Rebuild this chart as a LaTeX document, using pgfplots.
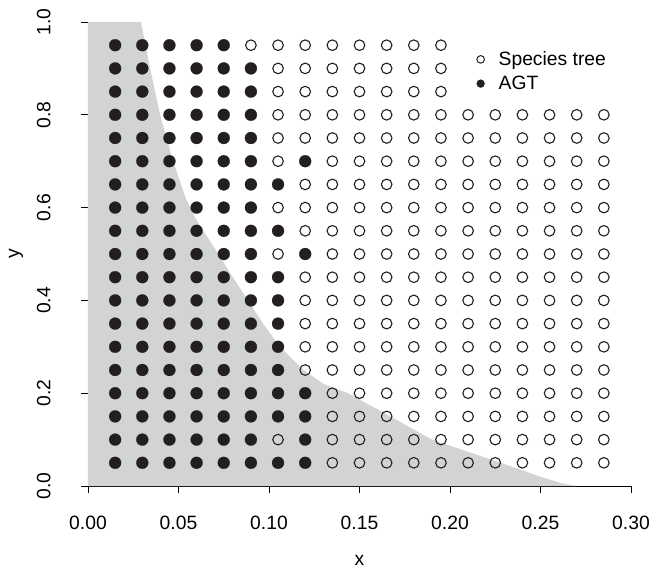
\documentclass[border=0pt]{standalone}
\usepackage{fontspec}
\setmainfont{Liberation Sans}
\usepackage{pgfplots}
\pgfplotsset{compat=1.18}
\definecolor{zonegray}{RGB}{209,211,212}
\definecolor{markblack}{RGB}{35,31,32}
\begin{document}
\begin{tikzpicture}
\begin{axis}[
  scale only axis, width=543pt, height=464pt,
  xmin=0, xmax=0.3, ymin=0, ymax=1,
  axis x line*=bottom, axis y line*=left,
  axis line style={line width=0.8pt, -, black},
  xtick={0,0.05,0.1,0.15,0.2,0.25,0.3},
  xticklabels={0.00,0.05,0.10,0.15,0.20,0.25,0.30},
  ytick={0,0.2,0.4,0.6,0.8,1},
  yticklabels={0.0,0.2,0.4,0.6,0.8,1.0},
  tick align=outside, major tick length=7pt,
  tick style={line width=0.8pt, black},
  /pgf/number format/assume math mode=true,
  ticklabel style={font=\fontsize{19.3}{22}\selectfont},
  yticklabel style={rotate=90, anchor=south},
  xticklabel shift=19pt, yticklabel shift=27pt,
  xlabel={x}, ylabel={y},
  label style={font=\fontsize{19.3}{22}\selectfont},
  xlabel style={at={(axis description cs:0.5,-0.1595)}, anchor=center},
  ylabel style={at={(axis description cs:-0.1326,0.5)}, anchor=center},
  legend style={draw=none, fill=none, at={(axis description cs:0.708,0.943)}, anchor=north west,
    font=\fontsize{19.3}{22}\selectfont, nodes={inner sep=1pt}, row sep=7pt},
  legend cell align=left,
]
\coordinate (sw) at (rel axis cs:0,0);
\coordinate (ne) at (rel axis cs:1,1);
\addplot[draw=none, fill=zonegray, forget plot] coordinates {
(0,0) (0,1) (0.0293,1.00) (0.0343,0.90) (0.0398,0.80) (0.0470,0.70) (0.0540,0.62)
(0.0596,0.575) (0.0720,0.50) (0.0800,0.45) (0.0884,0.40) (0.0967,0.35) (0.1060,0.30)
(0.1190,0.25) (0.1300,0.22) (0.1437,0.20) (0.1670,0.15) (0.1900,0.10) (0.2280,0.05)
(0.2500,0.02) (0.2626,0.005) (0.2700,0)} -- cycle;
% Species tree (open circles)
\addplot[only marks, mark=o, mark size=5.3pt, mark options={line width=1.1pt, draw=markblack},
  legend image code/.code={\path[draw=none, fill=none] (0pt,0pt) rectangle (22pt,0pt);
    \path plot[mark=o, mark size=3.8pt, mark options={line width=1pt, draw=markblack}] coordinates {(5pt,0pt)};}]
coordinates {
(0.090,0.95) (0.105,0.95) (0.120,0.95) (0.135,0.95) (0.150,0.95) (0.165,0.95) (0.180,0.95) (0.195,0.95)
(0.105,0.90) (0.120,0.90) (0.135,0.90) (0.150,0.90) (0.165,0.90) (0.180,0.90) (0.195,0.90)
(0.105,0.85) (0.120,0.85) (0.135,0.85) (0.150,0.85) (0.165,0.85) (0.180,0.85) (0.195,0.85)
(0.105,0.80) (0.120,0.80) (0.135,0.80) (0.150,0.80) (0.165,0.80) (0.180,0.80) (0.195,0.80) (0.210,0.80) (0.225,0.80) (0.240,0.80) (0.255,0.80) (0.270,0.80) (0.285,0.80)
(0.105,0.75) (0.120,0.75) (0.135,0.75) (0.150,0.75) (0.165,0.75) (0.180,0.75) (0.195,0.75) (0.210,0.75) (0.225,0.75) (0.240,0.75) (0.255,0.75) (0.270,0.75) (0.285,0.75)
(0.105,0.70) (0.135,0.70) (0.150,0.70) (0.165,0.70) (0.180,0.70) (0.195,0.70) (0.210,0.70) (0.225,0.70) (0.240,0.70) (0.255,0.70) (0.270,0.70) (0.285,0.70)
(0.120,0.65) (0.135,0.65) (0.150,0.65) (0.165,0.65) (0.180,0.65) (0.195,0.65) (0.210,0.65) (0.225,0.65) (0.240,0.65) (0.255,0.65) (0.270,0.65) (0.285,0.65)
(0.105,0.60) (0.120,0.60) (0.135,0.60) (0.150,0.60) (0.165,0.60) (0.180,0.60) (0.195,0.60) (0.210,0.60) (0.225,0.60) (0.240,0.60) (0.255,0.60) (0.270,0.60) (0.285,0.60)
(0.120,0.55) (0.135,0.55) (0.150,0.55) (0.165,0.55) (0.180,0.55) (0.195,0.55) (0.210,0.55) (0.225,0.55) (0.240,0.55) (0.255,0.55) (0.270,0.55) (0.285,0.55)
(0.105,0.50) (0.135,0.50) (0.150,0.50) (0.165,0.50) (0.180,0.50) (0.195,0.50) (0.210,0.50) (0.225,0.50) (0.240,0.50) (0.255,0.50) (0.270,0.50) (0.285,0.50)
(0.120,0.45) (0.135,0.45) (0.150,0.45) (0.165,0.45) (0.180,0.45) (0.195,0.45) (0.210,0.45) (0.225,0.45) (0.240,0.45) (0.255,0.45) (0.270,0.45) (0.285,0.45)
(0.120,0.40) (0.135,0.40) (0.150,0.40) (0.165,0.40) (0.180,0.40) (0.195,0.40) (0.210,0.40) (0.225,0.40) (0.240,0.40) (0.255,0.40) (0.270,0.40) (0.285,0.40)
(0.120,0.35) (0.135,0.35) (0.150,0.35) (0.165,0.35) (0.180,0.35) (0.195,0.35) (0.210,0.35) (0.225,0.35) (0.240,0.35) (0.255,0.35) (0.270,0.35) (0.285,0.35)
(0.120,0.30) (0.135,0.30) (0.150,0.30) (0.165,0.30) (0.180,0.30) (0.195,0.30) (0.210,0.30) (0.225,0.30) (0.240,0.30) (0.255,0.30) (0.270,0.30) (0.285,0.30)
(0.120,0.25) (0.135,0.25) (0.150,0.25) (0.165,0.25) (0.180,0.25) (0.195,0.25) (0.210,0.25) (0.225,0.25) (0.240,0.25) (0.255,0.25) (0.270,0.25) (0.285,0.25)
(0.135,0.20) (0.150,0.20) (0.165,0.20) (0.180,0.20) (0.195,0.20) (0.210,0.20) (0.225,0.20) (0.240,0.20) (0.255,0.20) (0.270,0.20) (0.285,0.20)
(0.135,0.15) (0.150,0.15) (0.165,0.15) (0.180,0.15) (0.195,0.15) (0.210,0.15) (0.225,0.15) (0.240,0.15) (0.255,0.15) (0.270,0.15) (0.285,0.15)
(0.105,0.10) (0.135,0.10) (0.150,0.10) (0.165,0.10) (0.180,0.10) (0.195,0.10) (0.210,0.10) (0.225,0.10) (0.240,0.10) (0.255,0.10) (0.270,0.10) (0.285,0.10)
(0.135,0.05) (0.150,0.05) (0.165,0.05) (0.180,0.05) (0.195,0.05) (0.210,0.05) (0.225,0.05) (0.240,0.05) (0.255,0.05) (0.270,0.05) (0.285,0.05)
};
\addlegendentry{Species tree}
% AGT (filled circles)
\addplot[only marks, mark=*, mark size=6pt, mark options={fill=markblack, draw=markblack, line width=0.2pt},
  legend image code/.code={\path[draw=none, fill=none] (0pt,0pt) rectangle (22pt,0pt);
    \path plot[mark=*, mark size=4pt, mark options={fill=markblack, draw=markblack, line width=0.2pt}] coordinates {(5pt,0pt)};}]
coordinates {
(0.015,0.95) (0.030,0.95) (0.045,0.95) (0.060,0.95) (0.075,0.95)
(0.015,0.90) (0.030,0.90) (0.045,0.90) (0.060,0.90) (0.075,0.90) (0.090,0.90)
(0.015,0.85) (0.030,0.85) (0.045,0.85) (0.060,0.85) (0.075,0.85) (0.090,0.85)
(0.015,0.80) (0.030,0.80) (0.045,0.80) (0.060,0.80) (0.075,0.80) (0.090,0.80)
(0.015,0.75) (0.030,0.75) (0.045,0.75) (0.060,0.75) (0.075,0.75) (0.090,0.75)
(0.015,0.70) (0.030,0.70) (0.045,0.70) (0.060,0.70) (0.075,0.70) (0.090,0.70) (0.120,0.70)
(0.015,0.65) (0.030,0.65) (0.045,0.65) (0.060,0.65) (0.075,0.65) (0.090,0.65) (0.105,0.65)
(0.015,0.60) (0.030,0.60) (0.045,0.60) (0.060,0.60) (0.075,0.60) (0.090,0.60)
(0.015,0.55) (0.030,0.55) (0.045,0.55) (0.060,0.55) (0.075,0.55) (0.090,0.55) (0.105,0.55)
(0.015,0.50) (0.030,0.50) (0.045,0.50) (0.060,0.50) (0.075,0.50) (0.090,0.50) (0.120,0.50)
(0.015,0.45) (0.030,0.45) (0.045,0.45) (0.060,0.45) (0.075,0.45) (0.090,0.45) (0.105,0.45)
(0.015,0.40) (0.030,0.40) (0.045,0.40) (0.060,0.40) (0.075,0.40) (0.090,0.40) (0.105,0.40)
(0.015,0.35) (0.030,0.35) (0.045,0.35) (0.060,0.35) (0.075,0.35) (0.090,0.35) (0.105,0.35)
(0.015,0.30) (0.030,0.30) (0.045,0.30) (0.060,0.30) (0.075,0.30) (0.090,0.30) (0.105,0.30)
(0.015,0.25) (0.030,0.25) (0.045,0.25) (0.060,0.25) (0.075,0.25) (0.090,0.25) (0.105,0.25)
(0.015,0.20) (0.030,0.20) (0.045,0.20) (0.060,0.20) (0.075,0.20) (0.090,0.20) (0.105,0.20) (0.120,0.20)
(0.015,0.15) (0.030,0.15) (0.045,0.15) (0.060,0.15) (0.075,0.15) (0.090,0.15) (0.105,0.15) (0.120,0.15)
(0.015,0.10) (0.030,0.10) (0.045,0.10) (0.060,0.10) (0.075,0.10) (0.090,0.10) (0.120,0.10)
(0.015,0.05) (0.030,0.05) (0.045,0.05) (0.060,0.05) (0.075,0.05) (0.090,0.05) (0.105,0.05) (0.120,0.05)
};
\addlegendentry{AGT}
\end{axis}
\pgfresetboundingbox
\path ([xshift=-88pt,yshift=-85pt]sw) rectangle ([xshift=29pt,yshift=22pt]ne);
\end{tikzpicture}
\end{document}
